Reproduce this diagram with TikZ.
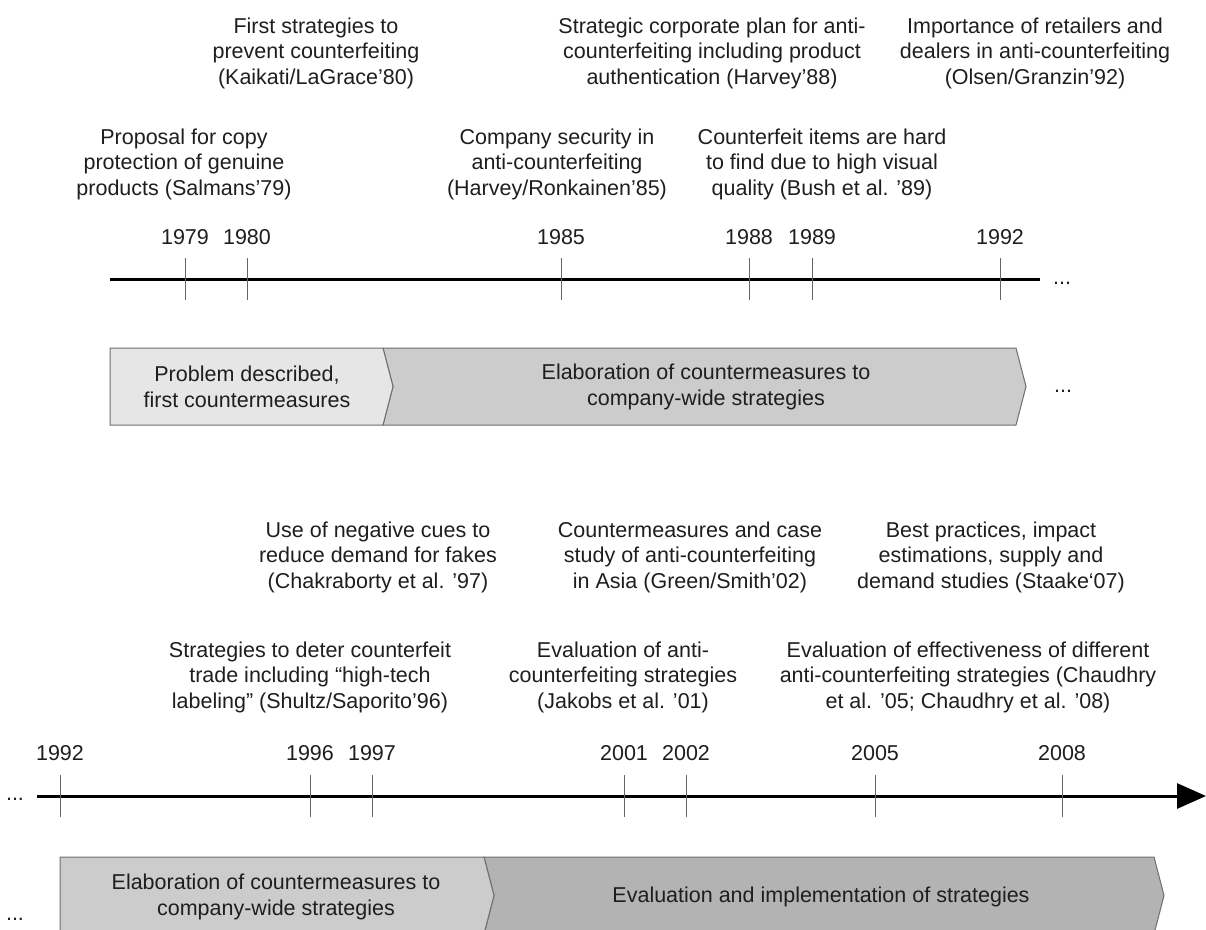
\documentclass[tikz,border=0pt]{standalone}
\usepackage{fontspec}
\setmainfont{Liberation Sans}
\usetikzlibrary{arrows.meta}
\definecolor{phaseone}{HTML}{E6E6E6}
\definecolor{phasetwo}{HTML}{CCCCCC}
\definecolor{phasethree}{HTML}{B3B3B3}
\definecolor{rim}{HTML}{6E6E6E}
\definecolor{ink}{HTML}{1E1E1E}
\begin{document}
\begin{tikzpicture}[x=1pt,y=-1pt,
  txt/.style={inner sep=0pt, text=ink, font=\fontsize{21.5}{25.5}\selectfont},
  lbl/.style={txt, align=center, anchor=base},
  yr/.style={txt, anchor=base},
  inbox/.style={txt, align=center, anchor=center},
  tickmark/.style={draw=black!60, line width=1pt},
  axis/.style={draw=black, line width=3pt},
  phase/.style={draw=rim, line width=1pt, line join=miter},
  dots/.style={txt, anchor=center}
]
\useasboundingbox (0,0) rectangle (1206,929);
\clip (0,0) rectangle (1206,929);

% ---------------- first period: 1979 - 1992 ----------------
% label nodes are placed by the baseline of their last line
\node[lbl] (kaikati) at (316,84) {First strategies to\\prevent counterfeiting\\(Kaikati/LaGrace’80)};
\node[lbl] (harvey88) at (712,84) {Strategic corporate plan for anti-\\counterfeiting including product\\authentication (Harvey’88)};
\node[lbl] (olsen) at (1035,84) {Importance of retailers and\\dealers in anti-counterfeiting\\(Olsen/Granzin’92)};

\node[lbl] (salmans) at (184,195) {Proposal for copy\\protection of genuine\\products (Salmans’79)};
\node[lbl] (harvey85) at (557,195) {Company security in\\anti-counterfeiting\\(Harvey/Ronkainen’85)};
\node[lbl] (bush) at (822,195) {Counterfeit items are hard\\to find due to high visual\\quality (Bush et al. ’89)};

\coordinate (axisAstart) at (110,279);
\coordinate (axisAend) at (1040,279);
\draw[axis] (axisAstart) -- (axisAend);
\node[dots] (moreA) at (1062,283) {...};

\foreach \x/\y in {185/1979, 247/1980, 561/1985, 749/1988, 812/1989, 1000/1992} {
  \node[yr] (y\y) at (\x,244) {\y};
  \draw[tickmark] (\x,258) -- (\x,300);
}

% phases of the first period
\draw[phase, fill=phasetwo] (383,348) -- (1016,348) -- (1026,386.5) -- (1016,425) -- (383,425) -- (393,386.5) -- cycle;
\draw[phase, fill=phaseone] (110,348) -- (383,348) -- (393,386.5) -- (383,425) -- (110,425) -- cycle;
\node[inbox] (phaseA) at (247,387) {Problem described,\\first countermeasures};
\node[inbox] (phaseB) at (706,387) {Elaboration of countermeasures to\\company-wide strategies};
\node[dots] (moreB) at (1063,391) {...};

% ---------------- second period: 1992 - 2008 ----------------
\node[lbl] (chakraborty) at (378,588) {Use of negative cues to\\reduce demand for fakes\\(Chakraborty et al. ’97)};
\node[lbl] (green) at (690,588) {Countermeasures and case\\study of anti-counterfeiting\\in Asia (Green/Smith’02)};
\node[lbl] (staake) at (991,588) {Best practices, impact\\estimations, supply and\\demand studies (Staake‘07)};

\node[lbl] (shultz) at (310,708) {Strategies to deter counterfeit\\trade including “high-tech\\labeling” (Shultz/Saporito’96)};
\node[lbl] (jakobs) at (623,708) {Evaluation of anti-\\counterfeiting strategies\\(Jakobs et al. ’01)};
\node[lbl] (chaudhry) at (968,708) {Evaluation of effectiveness of different\\anti-counterfeiting strategies (Chaudhry\\et al. ’05; Chaudhry et al. ’08)};

\coordinate (axisBstart) at (37,796);
\coordinate (axisBend) at (1206,796);
\draw[axis, -{Triangle[length=29pt, width=25pt]}] (axisBstart) -- (axisBend);
\node[dots] (moreC) at (15,799) {...};

\foreach \x/\y in {60/1992, 310/1996, 372/1997, 624/2001, 686/2002, 875/2005, 1062/2008} {
  \node[yr] (z\y) at (\x,760) {\y};
  \draw[tickmark] (\x,775) -- (\x,817);
}

% phases of the second period
\draw[phase, fill=phasethree] (484,857) -- (1154,857) -- (1164,895.5) -- (1154,934) -- (484,934) -- (494,895.5) -- cycle;
\draw[phase, fill=phasetwo] (60,857) -- (484,857) -- (494,895.5) -- (484,934) -- (60,934) -- cycle;
\node[inbox] (phaseC) at (276,897) {Elaboration of countermeasures to\\company-wide strategies};
\node[inbox] (phaseD) at (821,897) {Evaluation and implementation of strategies};
\node[dots] (moreD) at (15,919) {...};
\end{tikzpicture}
\end{document}
